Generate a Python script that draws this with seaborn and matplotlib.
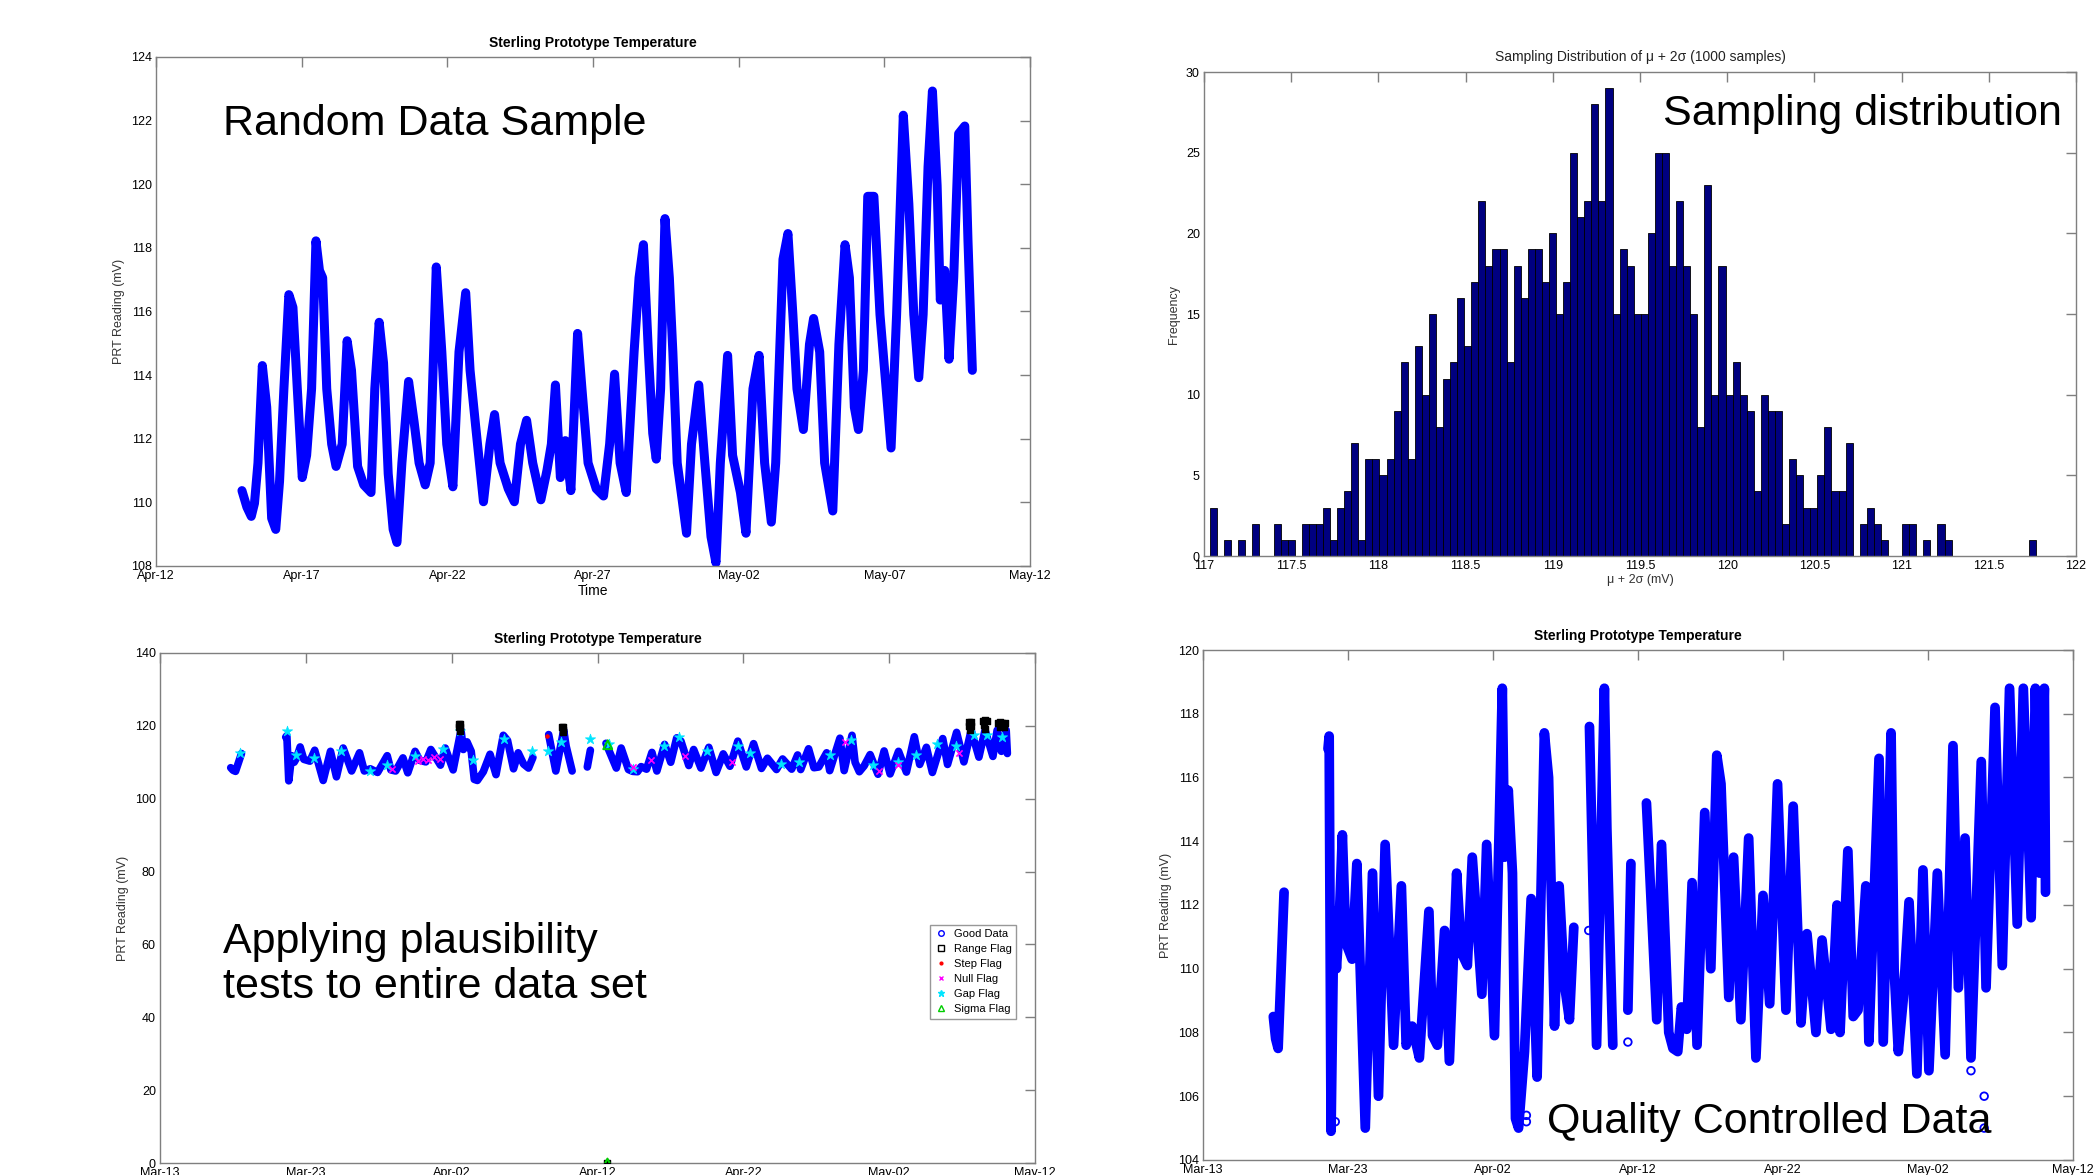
import numpy as np
import pandas as pd
import matplotlib
matplotlib.use("Agg")
import matplotlib.pyplot as plt
import matplotlib.dates as mdates
from matplotlib.lines import Line2D
import seaborn as sns

# ---- top left: random data sample (days after Apr-12) ----
sample_days = [2.95, 3.12, 3.27, 3.38, 3.50, 3.65, 3.80, 3.97, 4.11, 4.24,
               4.39, 4.56, 4.70, 4.85, 5.02, 5.17, 5.34, 5.49, 5.61, 5.72,
               5.86, 6.03, 6.18, 6.39, 6.56, 6.71, 6.92, 7.13, 7.38, 7.51,
               7.66, 7.81, 7.97, 8.14, 8.27, 8.44, 8.67, 8.86, 9.03, 9.24,
               9.41, 9.62, 9.81, 9.98, 10.19, 10.40, 10.63, 10.78, 10.97, 11.24,
               11.46, 11.62, 11.81, 12.09, 12.30, 12.51, 12.72, 12.93, 13.21, 13.42,
               13.57, 13.71, 13.88, 14.05, 14.24, 14.47, 14.62, 14.83, 15.11, 15.36,
               15.57, 15.74, 15.93, 16.14, 16.41, 16.58, 16.73, 16.90, 17.05, 17.17,
               17.32, 17.47, 17.62, 17.74, 17.89, 18.06, 18.21, 18.38, 18.63, 18.84,
               19.05, 19.22, 19.37, 19.62, 19.79, 20.06, 20.25, 20.49, 20.70, 20.89,
               21.12, 21.27, 21.52, 21.69, 21.86, 22.00, 22.22, 22.43, 22.57, 22.78,
               22.95, 23.23, 23.44, 23.65, 23.80, 23.97, 24.11, 24.28, 24.43, 24.64,
               24.85, 25.06, 25.23, 25.42, 25.65, 25.84, 26.01, 26.18, 26.33, 26.50,
               26.65, 26.81, 26.92, 27.07, 27.22, 27.38, 27.55, 27.76, 27.87, 28.02]
sample_mv = [110.37, 109.85, 109.56, 109.97, 111.24, 114.3, 112.99, 109.5, 109.15, 110.66,
             113.57, 116.53, 116.13, 113.57, 110.78, 111.48, 113.57, 118.22, 117.29, 117.06,
             113.57, 111.83, 111.13, 111.83, 115.08, 114.15, 111.13, 110.55, 110.31, 113.57,
             115.66, 114.38, 110.9, 109.15, 108.74, 111.24, 113.8, 112.52, 111.24, 110.55,
             111.24, 117.4, 114.73, 111.83, 110.49, 114.73, 116.59, 114.15, 112.41, 110.02,
             111.83, 112.76, 111.24, 110.43, 110.02, 111.83, 112.58, 111.24, 110.08, 111.01,
             111.83, 113.69, 110.78, 111.94, 110.37, 115.31, 113.57, 111.24, 110.43, 110.2,
             111.83, 114.03, 111.24, 110.31, 114.73, 117.06, 118.1, 114.73, 112.17, 111.36,
             113.57, 118.92, 117.06, 114.73, 111.24, 110.08, 109.03, 111.83, 113.69, 111.24,
             108.92, 108.1, 111.24, 114.62, 111.48, 110.31, 109.03, 113.57, 114.62, 111.24,
             109.38, 111.24, 117.64, 118.45, 115.9, 113.57, 112.29, 114.97, 115.78, 114.73,
             111.24, 109.73, 114.97, 118.1, 117.06, 112.99, 112.29, 114.15, 119.62, 119.62,
             115.9, 113.57, 111.71, 115.9, 122.17, 119.38, 115.9, 113.92, 115.9, 120.55,
             122.93, 119.97, 116.36, 117.29, 114.5, 117.06, 121.59, 121.83, 118.22, 114.15]

# ---- top right: sampling distribution of mu + 2 sigma ----
hist_lo = 117.034
hist_width = 0.0405
hist_counts = [3, 0, 1, 0, 1, 0, 2, 0, 0, 2, 1, 1, 0, 2, 2, 2, 3, 1, 3, 4,
               7, 1, 6, 6, 5, 6, 9, 12, 6, 13, 10, 15, 8, 11, 12, 16, 13, 17, 22, 18,
               19, 19, 12, 18, 16, 19, 19, 17, 20, 15, 17, 25, 21, 22, 28, 22, 29, 15, 19, 18,
               15, 15, 20, 25, 25, 18, 22, 18, 15, 8, 23, 10, 18, 10, 12, 10, 9, 4, 10, 9,
               9, 2, 6, 5, 3, 3, 5, 8, 4, 4, 7, 0, 2, 3, 2, 1, 0, 0, 2, 2,
               0, 1, 0, 2, 1, 0, 0, 0, 0, 0, 0, 0, 0, 0, 0, 0, 1]

# ---- bottom: whole record (days after Mar-13), split at the data gaps ----
qc_days_1 = [4.85, 5.01, 5.18, 5.39, 5.59]
qc_mv_1 = [108.5, 107.8, 107.5, 110.0, 112.4]
qc_days_2 = [8.62, 8.70, 8.83, 9.03, 9.20, 9.37, 9.61, 9.86, 10.28, 10.61,
             11.19, 11.69, 12.10, 12.56, 13.14, 13.68, 14.01, 14.42, 14.92, 15.58,
             15.83, 16.16, 16.66, 16.99, 17.49, 17.82, 18.23, 18.57, 19.23, 19.56,
             20.10, 20.64, 20.80, 21.05, 21.34, 21.55, 21.76, 22.17, 22.63, 23.04,
             23.54, 23.83, 24.24, 24.56, 24.93, 25.27, 25.57]
qc_mv_2 = [116.9, 117.3, 104.9, 111.8, 110.0, 111.2, 114.2, 110.8, 110.3, 113.3,
           105.0, 113.0, 106.0, 113.9, 107.6, 112.6, 107.6, 108.2, 107.2, 111.8,
           107.9, 107.6, 111.2, 107.1, 113.0, 110.5, 110.1, 113.5, 109.2, 113.9,
           107.9, 118.8, 113.5, 115.6, 113.0, 105.3, 105.0, 107.4, 112.2, 106.6,
           117.4, 116.0, 108.2, 112.6, 109.5, 108.4, 111.3]
qc_days_3 = [26.65, 27.14, 27.68, 27.85, 28.26]
qc_mv_3 = [117.6, 107.6, 118.8, 114.4, 107.6]
qc_days_4 = [29.30, 29.51]
qc_mv_4 = [108.7, 113.3]
qc_days_5 = [30.58, 31.29, 31.62, 32.12, 32.41, 32.74, 32.99, 33.36, 33.73, 34.07,
             34.60, 35.02, 35.43, 35.72, 36.26, 36.59, 37.09, 37.63, 38.13, 38.62,
             39.08, 39.62, 40.20, 40.70, 41.24, 41.65, 42.27, 42.69, 43.31, 43.72,
             43.93, 44.47, 44.84, 45.17, 45.71, 45.92, 46.62, 46.91, 47.45, 47.66,
             47.95, 48.28, 48.69, 49.23, 49.65, 50.06, 50.64, 51.18, 51.72, 52.09,
             52.55, 52.96, 53.67, 54.00, 54.62, 55.12, 55.62, 56.15, 56.57, 57.11,
             57.40, 57.69, 58.02, 58.10]
qc_mv_5 = [115.2, 108.4, 113.9, 108.0, 107.5, 107.4, 108.8, 108.1, 112.7, 107.6,
           114.9, 110.0, 116.7, 115.8, 109.1, 113.5, 108.4, 114.1, 107.2, 112.3,
           108.9, 115.8, 108.7, 115.1, 108.3, 111.1, 108.0, 110.9, 108.1, 112.0,
           108.0, 113.7, 108.5, 108.7, 112.6, 107.7, 116.6, 107.7, 117.4, 110.0,
           107.4, 109.0, 112.1, 106.7, 113.1, 106.8, 113.0, 107.3, 117.0, 109.4,
           114.1, 107.2, 116.5, 109.4, 118.2, 110.1, 118.8, 111.4, 118.8, 111.6,
           118.8, 113.0, 118.8, 112.4]
# isolated readings
lone_days = [9.12, 22.30, 22.30, 26.60, 29.30, 52.96, 53.87, 53.87]
lone_mv = [105.2, 105.4, 105.2, 111.2, 107.7, 106.8, 106.0, 105.0]

# plausibility flags
range_days = [20.52, 20.58, 20.52, 20.58, 20.55, 27.58, 27.64, 27.60, 27.61,
              55.45, 55.60, 55.50, 55.58, 55.52, 56.40, 56.55, 56.68, 56.50, 56.60,
              57.45, 57.60, 57.75, 57.92, 57.60, 57.85, 30.68]
range_mv = [120.6, 120.6, 119.6, 119.6, 118.7, 119.8, 119.8, 118.9, 118.2,
            121.0, 121.0, 119.9, 119.9, 118.8, 121.4, 121.6, 121.4, 120.2, 119.0,
            120.8, 121.0, 120.9, 120.8, 119.6, 119.6, 0.0]
step_days = [26.55, 30.68]
step_mv = [117.1, 0.0]
null_days = [15.9, 17.7, 18.0, 18.4, 18.8, 19.2, 32.4, 33.7, 36.0, 39.2, 47.0, 49.3, 50.6, 54.8]
null_mv = [108.2, 110.3, 111.0, 110.5, 111.4, 110.8, 108.7, 110.6, 111.6, 110.1, 115.5, 107.7, 109.2, 112.6]
gap_days = [5.48, 8.72, 9.36, 10.54, 12.43, 14.41, 15.59, 17.49, 19.38, 20.56, 21.49, 23.60,
            25.50, 26.63, 27.48, 29.50, 30.76, 32.45, 34.56, 35.61, 37.50, 39.61, 40.46,
            42.56, 43.83, 45.93, 47.41, 48.88, 50.57, 51.83, 53.31, 54.57, 55.84, 56.68, 57.73]
gap_mv = [112.6, 118.6, 112.1, 111.1, 113.1, 107.7, 109.2, 111.6, 113.5, 118.6, 110.6, 116.5,
          113.1, 113.1, 115.5, 116.5, 115.0, 108.2, 114.5, 116.9, 113.1, 114.5, 112.6,
          109.6, 110.1, 112.1, 116.0, 109.2, 110.1, 112.1, 115.0, 114.5, 117.4, 117.4, 116.9]
sigma_days = [30.70, 30.68]
sigma_mv = [114.8, 0.0]

top_start = pd.Timestamp("2012-04-12")
full_start = pd.Timestamp("2012-03-13")


def to_time(start, days):
    return start + pd.to_timedelta(np.asarray(days, dtype=float), unit="D")


def matlab_axes(ax):
    for sp in ax.spines.values():
        sp.set_color("#7f7f7f")
        sp.set_linewidth(1.0)
        sp.set_visible(True)
    ax.tick_params(direction="in", length=7, width=1, color="#7f7f7f",
                   top=True, right=True, labelsize=9, labelcolor="black", pad=3)
    ax.grid(False)


sns.set_theme(style="white")
plt.rcParams["font.family"] = ["Liberation Sans", "DejaVu Sans"]
plt.rcParams["text.color"] = "black"
plt.rcParams["axes.labelcolor"] = "black"

fig = plt.figure(figsize=(20.94, 11.75), dpi=100)
fig.patch.set_facecolor("white")

# ---------- top left ----------
ax1 = fig.add_axes([0.0745, 0.5183, 0.4174, 0.4332])
sns.lineplot(x=to_time(top_start, sample_days), y=sample_mv, ax=ax1,
             color="#0000ff", linewidth=6.5, sort=False, estimator=None)
ax1.set_xlim(top_start, pd.Timestamp("2012-05-12"))
ax1.set_ylim(108, 124)
ax1.set_yticks(range(108, 125, 2))
ax1.set_xticks(pd.date_range("2012-04-12", "2012-05-12", freq="5D"))
ax1.xaxis.set_major_formatter(mdates.DateFormatter("%b-%d"))
ax1.set_title("Sterling Prototype Temperature", fontsize=10, fontweight="bold", pad=7)
ax1.set_xlabel("Time", fontsize=10, labelpad=1)
ax1.set_ylabel("PRT Reading (mV)", fontsize=9, color="#333333")
matlab_axes(ax1)

# ---------- top right ----------
ax2 = fig.add_axes([0.575, 0.5268, 0.4164, 0.4119])
edges = hist_lo + hist_width * np.arange(len(hist_counts) + 1)
hist_df = pd.DataFrame({"mid": (edges[:-1] + edges[1:]) / 2, "n": hist_counts})
sns.histplot(data=hist_df, x="mid", weights="n", bins=list(edges), ax=ax2,
             color="#000080", edgecolor="black", linewidth=0.6, alpha=1)
ax2.set_xlim(117, 122)
ax2.set_ylim(0, 30)
ax2.set_xticks(np.arange(117, 122.01, 0.5))
ax2.set_xticklabels([f"{v:g}" for v in np.arange(117, 122.01, 0.5)])
ax2.set_yticks(range(0, 31, 5))
ax2.set_title("Sampling Distribution of \u03bc + 2\u03c3 (1000 samples)", fontsize=10,
              color="#222222", pad=8)
ax2.set_xlabel("\u03bc + 2\u03c3 (mV)", fontsize=9, labelpad=1, color="#333333")
ax2.set_ylabel("Frequency", fontsize=9, color="#333333")
matlab_axes(ax2)

# ---------- bottom data frame ----------
segments = [(qc_days_1, qc_mv_1), (qc_days_2, qc_mv_2), (qc_days_3, qc_mv_3),
            (qc_days_4, qc_mv_4), (qc_days_5, qc_mv_5)]
qc = pd.concat([pd.DataFrame({"t": to_time(full_start, d), "mv": v, "seg": i})
                for i, (d, v) in enumerate(segments)], ignore_index=True)

# ---------- bottom left ----------
ax3 = fig.add_axes([0.0764, 0.0102, 0.4179, 0.4341])
sns.lineplot(data=qc, x="t", y="mv", units="seg", estimator=None, sort=False,
             ax=ax3, color="#0000ff", linewidth=5.5)
sns.scatterplot(x=to_time(full_start, gap_days), y=gap_mv, ax=ax3, marker="*",
                s=60, color="#00e5ff", edgecolor="#00e5ff", linewidth=0.5, zorder=4)
sns.scatterplot(x=to_time(full_start, null_days), y=null_mv, ax=ax3, marker="x",
                s=20, color="magenta", linewidth=1.2, zorder=4)
sns.scatterplot(x=to_time(full_start, step_days), y=step_mv, ax=ax3, marker=".",
                s=30, color="red", edgecolor="red", zorder=5)
sns.scatterplot(x=to_time(full_start, range_days), y=range_mv, ax=ax3, marker="s",
                s=22, facecolor="black", edgecolor="black", linewidth=1.0, zorder=5)
sns.scatterplot(x=to_time(full_start, sigma_days), y=sigma_mv, ax=ax3, marker="^",
                s=40, facecolor="none", edgecolor="#00cc00", linewidth=1.5, zorder=6)
ax3.set_xlim(full_start, pd.Timestamp("2012-05-12"))
ax3.set_ylim(0, 140)
ax3.set_yticks(range(0, 141, 20))
ax3.set_xticks(pd.date_range("2012-03-13", "2012-05-12", freq="10D"))
ax3.xaxis.set_major_formatter(mdates.DateFormatter("%b-%d"))
ax3.set_title("Sterling Prototype Temperature", fontsize=10, fontweight="bold", pad=7)
ax3.set_xlabel("")
ax3.set_ylabel("PRT Reading (mV)", fontsize=9, color="#333333")
matlab_axes(ax3)
handles = [
    Line2D([], [], ls="none", marker="o", ms=4, mfc="none", mec="blue", label="Good Data"),
    Line2D([], [], ls="none", marker="s", ms=4, mfc="none", mec="black", label="Range Flag"),
    Line2D([], [], ls="none", marker=".", ms=4, color="red", label="Step Flag"),
    Line2D([], [], ls="none", marker="x", ms=3.5, color="magenta", label="Null Flag"),
    Line2D([], [], ls="none", marker="*", ms=5, color="#00e5ff", label="Gap Flag"),
    Line2D([], [], ls="none", marker="^", ms=4, mfc="none", mec="#00cc00", label="Sigma Flag"),
]
leg = ax3.legend(handles=handles, loc="upper right", bbox_to_anchor=(0.985, 0.478),
                 fontsize=8, frameon=True, fancybox=False, handletextpad=0.6,
                 borderpad=0.4, labelspacing=0.45, handlelength=1.2)
leg.get_frame().set_edgecolor("#7f7f7f")
leg.get_frame().set_linewidth(1.0)

# ---------- bottom right ----------
ax4 = fig.add_axes([0.5745, 0.0128, 0.4155, 0.434])
sns.lineplot(data=qc, x="t", y="mv", units="seg", estimator=None, sort=False,
             ax=ax4, color="#0000ff", linewidth=7)
sns.scatterplot(x=to_time(full_start, lone_days), y=lone_mv, ax=ax4, marker="o",
                s=30, facecolor="none", edgecolor="#0000ff", linewidth=1.3)
ax4.set_xlim(full_start, pd.Timestamp("2012-05-12"))
ax4.set_ylim(104, 120)
ax4.set_yticks(range(104, 121, 2))
ax4.set_xticks(pd.date_range("2012-03-13", "2012-05-12", freq="10D"))
ax4.xaxis.set_major_formatter(mdates.DateFormatter("%b-%d"))
ax4.set_title("Sterling Prototype Temperature", fontsize=10, fontweight="bold", pad=7)
ax4.set_xlabel("")
ax4.set_ylabel("PRT Reading (mV)", fontsize=9, color="#333333")
matlab_axes(ax4)

# ---------- slide captions ----------
fig.text(0.1065, 0.8945, "Random Data Sample", fontsize=31, va="center", ha="left",
         color="black")
fig.text(0.9845, 0.9034, "Sampling distribution", fontsize=31, va="center", ha="right",
         color="black")
fig.text(0.1065, 0.179, "Applying plausibility\ntests to entire data set", fontsize=31,
         va="center", ha="left", linespacing=1.15, color="black")
fig.text(0.7388, 0.045, "Quality Controlled Data", fontsize=31, va="center", ha="left",
         color="black")

fig.savefig("out.png", dpi=100, facecolor="white")
